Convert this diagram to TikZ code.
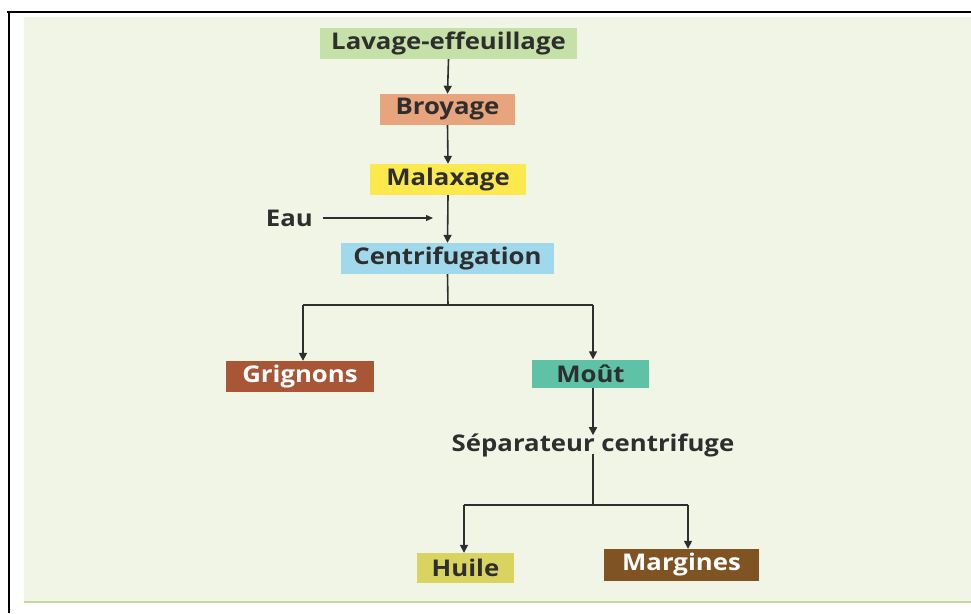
\documentclass[tikz,border=0pt]{standalone}
\usepackage{fontspec}
\setmainfont[FakeStretch=1.12]{Open Sans}
\usetikzlibrary{arrows.meta}
\definecolor{bg}{HTML}{F1F5E6}
\definecolor{bgline}{HTML}{C3DA9A}
\definecolor{cLav}{HTML}{C5E1A7}
\definecolor{cBro}{HTML}{E8A47C}
\definecolor{cMal}{HTML}{FBE94E}
\definecolor{cCen}{HTML}{A0D9EB}
\definecolor{cGri}{HTML}{A85636}
\definecolor{cMou}{HTML}{5EC3A6}
\definecolor{cHui}{HTML}{D9D460}
\definecolor{cMar}{HTML}{7F5322}
\definecolor{txt}{HTML}{2E2E2E}
\tikzset{
  lbl/.style={font=\bfseries\fontsize{23}{25}\selectfont, text=txt, inner sep=0pt},
  stepbox/.style={lbl, fill=#1, minimum height=31pt},
  conn/.style={draw=txt, line width=1.6pt},
  arr/.style={conn, -{Triangle[length=8pt,width=8pt]}},
}
\begin{document}
\begin{tikzpicture}[x=1pt,y=-1pt]
\useasboundingbox (0,0) rectangle (971,613);
\fill[white] (0,0) rectangle (971,613);
\fill[bg] (24,17) rectangle (971,601);
\draw[bgline, line width=2pt] (24,602) -- (971,602);
\draw[black, line width=1.2pt] (7,12) -- (971,12);
\draw[black, line width=2pt] (9,12) -- (9,613);

\node[stepbox=cLav, minimum width=257pt] (lav) at (448.5,43.5) {Lavage-effeuillage};
\node[stepbox=cBro, minimum width=135pt] (bro) at (447.5,109.5) {Broyage};
\node[stepbox=cMal, minimum width=156pt] (mal) at (448,179.5) {Malaxage};
\node[stepbox=cCen, minimum width=213pt] (cen) at (447.5,258.5) {Centrifugation};
\node[stepbox=cGri, minimum width=148pt, text=white] (gri) at (300,376.5) {Grignons};
\node[stepbox=cMou, minimum width=117pt, minimum height=28pt] (mou) at (590.5,373.5) {Moût};
\node[lbl] (sep) at (593,445) {Séparateur centrifuge};
\node[stepbox=cHui, minimum width=97pt, minimum height=30pt] (hui) at (465.5,568) {Huile};
\node[stepbox=cMar, minimum width=155pt, minimum height=32pt, text=white] (mar) at (681.5,565) {Margines};
\node[lbl, anchor=east] (eau) at (313,218) {Eau};

\coordinate (eauend) at (433,218);
\coordinate (c1) at (448,305);
\coordinate (cL) at (303,305);
\coordinate (cR) at (593,305);
\coordinate (s1) at (593,505);
\coordinate (sL) at (464,505);
\coordinate (sR) at (688,505);

\draw[arr] (lav.south) -- (bro.north);
\draw[arr] (bro.south) -- (mal.north);
\draw[arr] (mal.south) -- (cen.north);
\draw[conn, line width=1.2pt, -{Triangle[length=7pt,width=6pt]}] ([xshift=10pt]eau.east) -- (eauend);
\draw[conn] (cen.south) -- (c1);
\draw[conn] (cL) -- (cR);
\draw[arr] (cL) -- (cL |- gri.north);
\draw[arr] (cR) -- (cR |- mou.north);
\draw[arr] (mou.south -| sep.north) -- ([yshift=-2pt]sep.north);
\draw[conn] ([yshift=3pt]sep.south) -- (s1);
\draw[conn] (sL) -- (sR);
\draw[arr] (sL) -- (sL |- hui.north);
\draw[arr] (sR) -- (sR |- mar.north);
\end{tikzpicture}
\end{document}
